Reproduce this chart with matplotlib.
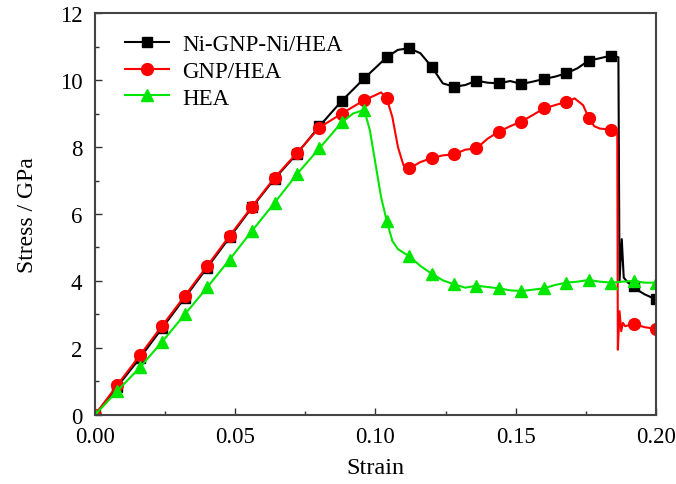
import matplotlib
matplotlib.use("Agg")
import matplotlib.pyplot as plt
from matplotlib.ticker import MultipleLocator, FormatStrFormatter

plt.rcParams['font.family'] = ['Liberation Serif', 'DejaVu Serif']
plt.rcParams['font.size'] = 16.5

# Ni-GNP-Ni/HEA
strain_ni = [0.000, 0.008, 0.016, 0.024, 0.032, 0.040, 0.048, 0.056, 0.064, 0.072,
             0.080, 0.088, 0.096, 0.104, 0.108, 0.112, 0.116, 0.120, 0.124, 0.128,
             0.132, 0.136, 0.140, 0.144, 0.148, 0.152, 0.156, 0.160, 0.164, 0.168,
             0.172, 0.176, 0.180, 0.184, 0.1866, 0.1870, 0.1878, 0.1885, 0.190,
             0.192, 0.194, 0.196, 0.200]
stress_ni = [0.00, 0.85, 1.70, 2.60, 3.50, 4.40, 5.30, 6.20, 7.05, 7.80,
             8.62, 9.38, 10.05, 10.68, 10.90, 10.95, 10.80, 10.40, 9.90, 9.80,
             9.85, 9.98, 9.92, 9.90, 9.97, 9.88, 9.95, 10.03, 10.10, 10.20,
             10.35, 10.58, 10.65, 10.73, 10.68, 4.00, 5.25, 4.10, 3.95,
             3.86, 3.70, 3.60, 3.45]

# GNP/HEA
strain_gnp = [0.000, 0.008, 0.016, 0.024, 0.032, 0.040, 0.048, 0.056, 0.064, 0.072,
              0.080, 0.088, 0.096, 0.100, 0.102, 0.104, 0.106, 0.108, 0.110, 0.112,
              0.116, 0.120, 0.124, 0.128, 0.132, 0.136, 0.140, 0.144, 0.148, 0.152,
              0.156, 0.160, 0.164, 0.168, 0.171, 0.174, 0.176, 0.178, 0.180, 0.184,
              0.1862, 0.1864, 0.1870, 0.1876, 0.1882, 0.1890, 0.192, 0.196, 0.200]
stress_gnp = [0.00, 0.90, 1.78, 2.67, 3.55, 4.45, 5.35, 6.22, 7.08, 7.82,
              8.58, 9.00, 9.40, 9.55, 9.63, 9.45, 8.90, 8.00, 7.45, 7.36,
              7.55, 7.67, 7.75, 7.78, 7.92, 7.96, 8.25, 8.46, 8.62, 8.76,
              8.95, 9.15, 9.25, 9.35, 9.45, 9.25, 8.88, 8.62, 8.55, 8.52,
              8.50, 1.95, 3.10, 2.50, 2.75, 2.65, 2.72, 2.62, 2.57]

# HEA
strain_hea = [0.000, 0.008, 0.016, 0.024, 0.032, 0.040, 0.048, 0.056, 0.064, 0.072,
              0.080, 0.088, 0.092, 0.096, 0.098, 0.100, 0.102, 0.104, 0.106, 0.108,
              0.112, 0.116, 0.120, 0.124, 0.128, 0.132, 0.136, 0.140, 0.144, 0.148,
              0.152, 0.156, 0.160, 0.164, 0.168, 0.172, 0.176, 0.180, 0.184, 0.188,
              0.192, 0.196, 0.200]
stress_hea = [0.00, 0.72, 1.42, 2.19, 3.00, 3.81, 4.64, 5.50, 6.33, 7.19,
              7.96, 8.74, 9.00, 9.11, 8.50, 7.50, 6.50, 5.80, 5.20, 4.95,
              4.74, 4.45, 4.22, 4.02, 3.90, 3.80, 3.86, 3.82, 3.78, 3.72,
              3.70, 3.74, 3.78, 3.88, 3.95, 3.98, 4.03, 3.98, 3.95, 3.98,
              4.00, 3.95, 3.95]

labels = ['Ni-GNP-Ni/HEA', 'GNP/HEA', 'HEA']


def marker_idx(xs, step=0.008):
    # put a marker on every point that sits on a multiple of the step
    return [i for i, s in enumerate(xs) if abs(s / step - round(s / step)) < 1e-6]


fig = plt.figure(figsize=(6.76, 4.85), dpi=100)
ax = fig.add_axes([0.1405, 0.1423, 0.8299, 0.8288])

ax.plot(strain_ni, stress_ni, color='black', lw=1.5, marker='s', ms=7,
        markevery=marker_idx(strain_ni), label=labels[0])
ax.plot(strain_gnp, stress_gnp, color='#ff0000', lw=1.5, marker='o', ms=8.5,
        markevery=marker_idx(strain_gnp), label=labels[1])
ax.plot(strain_hea, stress_hea, color='#00e600', lw=1.5, marker='^', ms=8.5,
        markevery=marker_idx(strain_hea), label=labels[2])

ax.set_xlim(0, 0.20)
ax.set_ylim(0, 12)
ax.xaxis.set_major_locator(MultipleLocator(0.05))
ax.xaxis.set_minor_locator(MultipleLocator(0.025))
ax.yaxis.set_major_locator(MultipleLocator(2))
ax.yaxis.set_minor_locator(MultipleLocator(1))
ax.xaxis.set_major_formatter(FormatStrFormatter('%.2f'))
ax.tick_params(which='both', direction='in', top=False, right=False, colors='#333333',
               labelcolor='black', labelsize=16.5)
ax.tick_params(which='major', length=5, width=1)
ax.tick_params(which='minor', length=3, width=1)
ax.tick_params(axis='x', pad=8)
ax.tick_params(axis='y', pad=9)
for sp in ax.spines.values():
    sp.set_color('#444444')
    sp.set_linewidth(1.5)

ax.set_xlabel('Strain', fontsize=17.5)
ax.set_ylabel('Stress / GPa', fontsize=17)
ax.xaxis.set_label_coords(0.5, -0.105)
ax.yaxis.set_label_coords(-0.101, 0.5)

ax.legend(loc='upper left', frameon=False, fontsize=16.5, handlelength=1.95,
          handletextpad=0.55, borderpad=0, borderaxespad=0, labelspacing=0.25,
          bbox_to_anchor=(0.053, 0.948))

fig.savefig('out.png', dpi=100)
